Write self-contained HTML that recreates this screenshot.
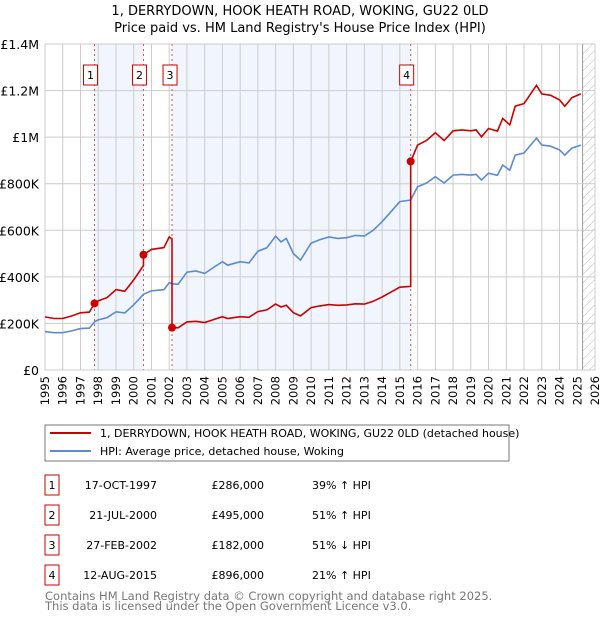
<!DOCTYPE html>
<html><head><meta charset="utf-8"><style>
body{margin:0;background:#fff;font-family:"DejaVu Sans","Liberation Sans",sans-serif;}
svg text{font-family:"DejaVu Sans","Liberation Sans",sans-serif;}
</style></head><body>
<svg id="chart" width="600" height="620" xmlns="http://www.w3.org/2000/svg">
<defs><pattern id="hatch" width="6" height="6" patternUnits="userSpaceOnUse" patternTransform="rotate(45)"><line x1="0" y1="0" x2="0" y2="6" stroke="#bbb" stroke-width="1"/></pattern></defs>
<text x="300" y="15" text-anchor="middle" font-size="13">1, DERRYDOWN, HOOK HEATH ROAD, WOKING, GU22 0LD</text>
<text x="300" y="32" text-anchor="middle" font-size="13">Price paid vs. HM Land Registry's House Price Index (HPI)</text>
<g id="plot"></g>
<rect x="45" y="425" width="464" height="36" fill="#fff" stroke="#777"/>
<line x1="50" y1="433" x2="91" y2="433" stroke="#cc0000" stroke-width="2"/>
<text x="100" y="437" font-size="11">1, DERRYDOWN, HOOK HEATH ROAD, WOKING, GU22 0LD (detached house)</text>
<line x1="50" y1="451" x2="91" y2="451" stroke="#5b8bd0" stroke-width="2"/>
<text x="100" y="455" font-size="11">HPI: Average price, detached house, Woking</text>
<g id="table" font-size="11"></g>
<text x="45" y="600" font-size="11.5" fill="#777">Contains HM Land Registry data © Crown copyright and database right 2025.</text>
<text x="45" y="610" font-size="11.5" fill="#777">This data is licensed under the Open Government Licence v3.0.</text>
</svg>
<script>
const hpiDates=[1995,1995.5,1996,1996.5,1997,1997.5,1997.8,1998,1998.5,1999,1999.5,2000,2000.55,2001,2001.7,2002,2002.16,2002.5,2003,2003.5,2004,2004.5,2005,2005.3,2006,2006.5,2007,2007.5,2008,2008.3,2008.6,2009,2009.4,2010,2010.5,2011,2011.5,2012,2012.5,2013,2013.5,2014,2014.5,2015,2015.61,2016,2016.5,2017,2017.5,2018,2018.5,2019,2019.3,2019.6,2020,2020.5,2020.8,2021.2,2021.5,2022,2022.7,2023,2023.5,2024,2024.3,2024.7,2025.2];
const hpiValues=[165,160,160,168,178,180,208,215,225,250,245,280,325,340,345,375,370,368,420,425,415,440,465,450,465,460,510,525,575,550,565,500,472,545,560,571,565,568,578,575,600,637,680,723,730,787,803,830,803,837,840,837,840,816,845,836,880,858,923,932,996,966,961,945,923,953,966];
const saleDates=[1997.79,2000.55,2002.16,2015.61];
const salePrices=[286,495,182,896];
const saleLabels=["1","2","3","4"];
const saleDateText=["17-OCT-1997","21-JUL-2000","27-FEB-2002","12-AUG-2015"];
const salePriceText=["£286,000","£495,000","£182,000","£896,000"];
const saleHpiText=["39% ↑ HPI","51% ↑ HPI","51% ↓ HPI","21% ↑ HPI"];
const yTicks=[0,200,400,600,800,1000,1200,1400];
const yTickLabels=["£0","£200K","£400K","£600K","£800K","£1M","£1.2M","£1.4M"];
const xTicks=[];for(let y=1995;y<=2026;y++)xTicks.push(y);

const X0=45,X1=595,Y0=370,Y1=44;
const xs=t=>X0+(t-1995)/(2026-1995)*(X1-X0);
const ys=v=>Y0-v/1400*(Y0-Y1);
const NS="http://www.w3.org/2000/svg";
const plot=document.getElementById('plot');
function mk(tag,attrs,parent){const e=document.createElementNS(NS,tag);for(const k in attrs)e.setAttribute(k,attrs[k]);(parent||plot).appendChild(e);return e;}
function hpiAt(t){for(let i=0;i<hpiDates.length-1;i++){if(t<=hpiDates[i+1]){const f=(t-hpiDates[i])/(hpiDates[i+1]-hpiDates[i]);return hpiValues[i]+f*(hpiValues[i+1]-hpiValues[i]);}}return hpiValues[hpiValues.length-1];}

const bands=[[saleDates[0],saleDates[1]],[saleDates[2],saleDates[3]]];
bands.forEach((b,i)=>{const r=mk('rect',{x:xs(b[0]),y:Y1,width:xs(b[1])-xs(b[0]),height:Y0-Y1,fill:'#eef3fc',opacity:0.8});

});
const hat=mk('rect',{x:xs(2025.3),y:Y1,width:X1-xs(2025.3),height:Y0-Y1,fill:'url(#hatch)'});


mk('line',{x1:xs(2025.3),y1:Y1,x2:xs(2025.3),y2:Y0,stroke:'#999','stroke-width':1});
xTicks.forEach(t=>{const l=mk('line',{x1:xs(t),y1:Y1,x2:xs(t),y2:Y0,stroke:'#ccc','stroke-width':1});


const tx=mk('text',{x:0,y:0,'font-size':11.5,'text-anchor':'end',transform:`translate(${xs(t)+4},376) rotate(-90)`});tx.textContent=t;

});
yTicks.forEach((v,i)=>{const l=mk('line',{x1:X0,y1:ys(v),x2:X1,y2:ys(v),stroke:'#ccc','stroke-width':1});


const tx=mk('text',{x:39,y:ys(v)+5,'font-size':12.5,'text-anchor':'end'});tx.textContent=yTickLabels[i];

});
saleDates.forEach((d,i)=>{const l=mk('line',{x1:xs(d),y1:Y1,x2:xs(d),y2:Y0,stroke:'#e05050','stroke-width':1,'stroke-dasharray':'2,3'});


const bx=xs(d)-(i==2?9:11);
const r=mk('rect',{x:bx,y:65,width:14,height:20,fill:'#fff',stroke:'#cc0000'});


const t=mk('text',{x:bx+7,y:79,'font-size':11,'text-anchor':'middle'});t.textContent=saleLabels[i];

});
const endT=2025.2;
let hp=hpiDates.map((d,i)=>xs(d).toFixed(1)+','+ys(hpiValues[i]).toFixed(1)).join(' ');
const hl=mk('polyline',{points:hp,fill:'none',stroke:'#5b8bd0','stroke-width':1.6});


const pts=[];
function segPts(t0,t1,base,baseT){const ts=[t0].concat(hpiDates.filter(d=>d>t0&&d<t1),[t1]);ts.forEach(t=>pts.push([t,base*hpiAt(t)/hpiAt(baseT)]));}
segPts(1995,saleDates[0],salePrices[0],saleDates[0]);
for(let i=0;i<saleDates.length;i++){const t1=i<saleDates.length-1?saleDates[i+1]:endT;segPts(saleDates[i],t1,salePrices[i],saleDates[i]);}
const rl=mk('polyline',{points:pts.map(p=>xs(p[0]).toFixed(1)+','+ys(p[1]).toFixed(1)).join(' '),fill:'none',stroke:'#cc0000','stroke-width':1.6});


saleDates.forEach((d,i)=>{const c=mk('circle',{cx:xs(d),cy:ys(salePrices[i]),r:4,fill:'#cc0000'});

});
mk('line',{x1:X0,y1:Y0,x2:X1,y2:Y0,stroke:'#ccc'});
const tb=document.getElementById('table');
saleDates.forEach((d,i)=>{const y=475+i*30;
const r=mk('rect',{x:45,y:y,width:14,height:20,fill:'#fff',stroke:'#cc0000'},tb);


const a=mk('text',{x:52,y:y+14,'text-anchor':'middle'},tb);a.textContent=saleLabels[i];


const b=mk('text',{x:157,y:y+14,'text-anchor':'end'},tb);b.textContent=saleDateText[i];


const c=mk('text',{x:264,y:y+14,'text-anchor':'end'},tb);c.textContent=salePriceText[i];


const e=mk('text',{x:312,y:y+14},tb);e.textContent=saleHpiText[i];

});
</script>
</body></html>
